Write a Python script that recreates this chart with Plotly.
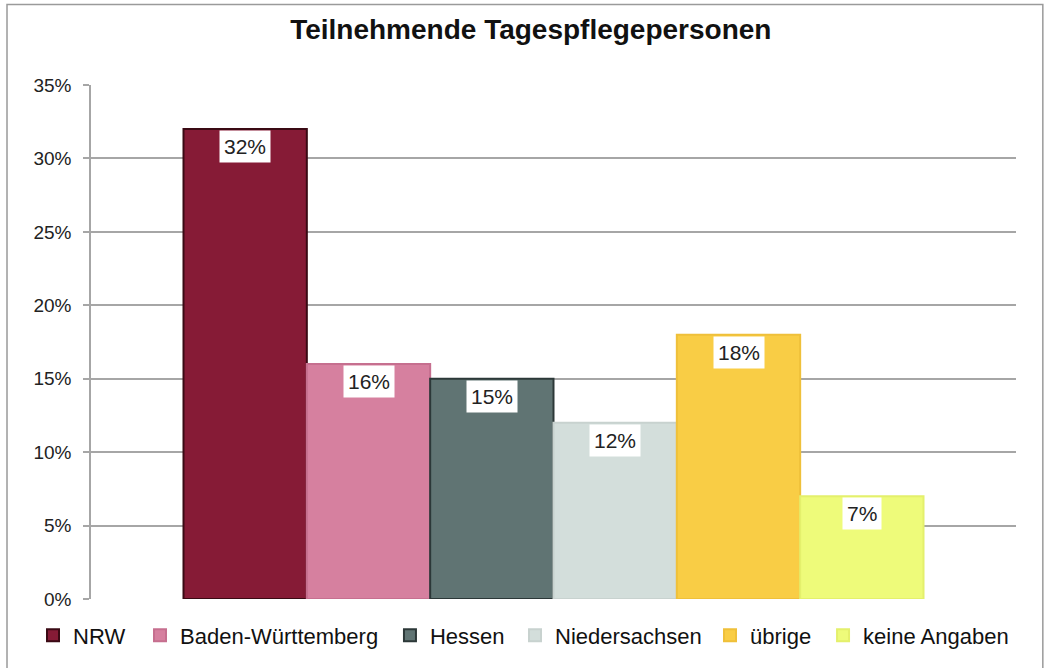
import plotly.graph_objects as go

# Anteil der teilnehmenden Tagespflegepersonen nach Bundesland (in %)
regionen = ["NRW", "Baden-Württemberg", "Hessen", "Niedersachsen", "übrige", "keine Angaben"]
anteile = [32, 16, 15, 12, 18, 7]
fuellfarben = ["#861b36", "#d6809f", "#607473", "#d3dedb", "#f9cd45", "#eefb7a"]
randfarben = ["#3a0a14", "#c66f8f", "#2c3838", "#c8d2cf", "#efc03a", "#e4f06c"]
y_ticks = [0, 5, 10, 15, 20, 25, 30, 35]
y_ticktext = [f"{v}%" for v in y_ticks]

# horizontale Position (Paper-Koordinaten) jedes Legendeneintrags
legenden_x = [-0.0627, 0.053, 0.3232, 0.4584, 0.6692, 0.7914]

SANS = "Liberation Sans, Arial, sans-serif"

fig = go.Figure()
layout_legenden = {}
for i, (name, val, fc, lc) in enumerate(zip(regionen, anteile, fuellfarben, randfarben)):
    lg = "legend" if i == 0 else f"legend{i + 1}"
    fig.add_trace(go.Bar(
        x=[i], y=[val], name=name, width=1, legend=lg,
        marker=dict(color=fc, line=dict(color=lc, width=2)),
        hoverinfo="skip",
    ))
    fig.add_annotation(
        x=i, y=val, text=f"{val}%", showarrow=False,
        yanchor="top", yshift=-1,
        bgcolor="white", borderpad=4,
        font=dict(family=SANS, size=21, color="#222"),
    )
    layout_legenden[lg] = dict(
        orientation="h", x=legenden_x[i], xanchor="left",
        y=-0.03, yanchor="top", bgcolor="rgba(0,0,0,0)",
        font=dict(family=SANS, size=22, color="#111"), itemwidth=30,
    )

# Rahmen um das gesamte Diagramm
fig.add_shape(type="path", xref="paper", yref="paper",
              path="M -0.0908 -0.2 L -0.0908 1.1567 L 1.029 1.1567 L 1.029 -0.2",
              line=dict(color="#9a9a9a", width=1.5), layer="below")

fig.update_layout(
    width=1047, height=668,
    margin=dict(l=91, r=31, t=85, b=66),
    paper_bgcolor="white", plot_bgcolor="white",
    barmode="overlay",
    title=dict(text="<b>Teilnehmende Tagespflegepersonen</b>",
               x=0.507, xanchor="center", y=0.957, yanchor="middle",
               font=dict(family=SANS, size=28, color="#111")),
    xaxis=dict(range=[-1.25, 6.25], showticklabels=False, showgrid=False,
               zeroline=False, showline=False, fixedrange=True),
    yaxis=dict(range=[0, 35], tickvals=y_ticks, ticktext=y_ticktext,
               showgrid=True, gridcolor="#a6a6a6", gridwidth=1.5,
               showline=True, linecolor="#a6a6a6", linewidth=1.5,
               ticks="outside", ticklen=6, tickcolor="#a6a6a6", tickwidth=1.5,
               ticklabelstandoff=8, zeroline=False,
               tickfont=dict(family=SANS, size=19, color="#222")),
    showlegend=True,
    **layout_legenden,
)

fig.write_html("out.html")
